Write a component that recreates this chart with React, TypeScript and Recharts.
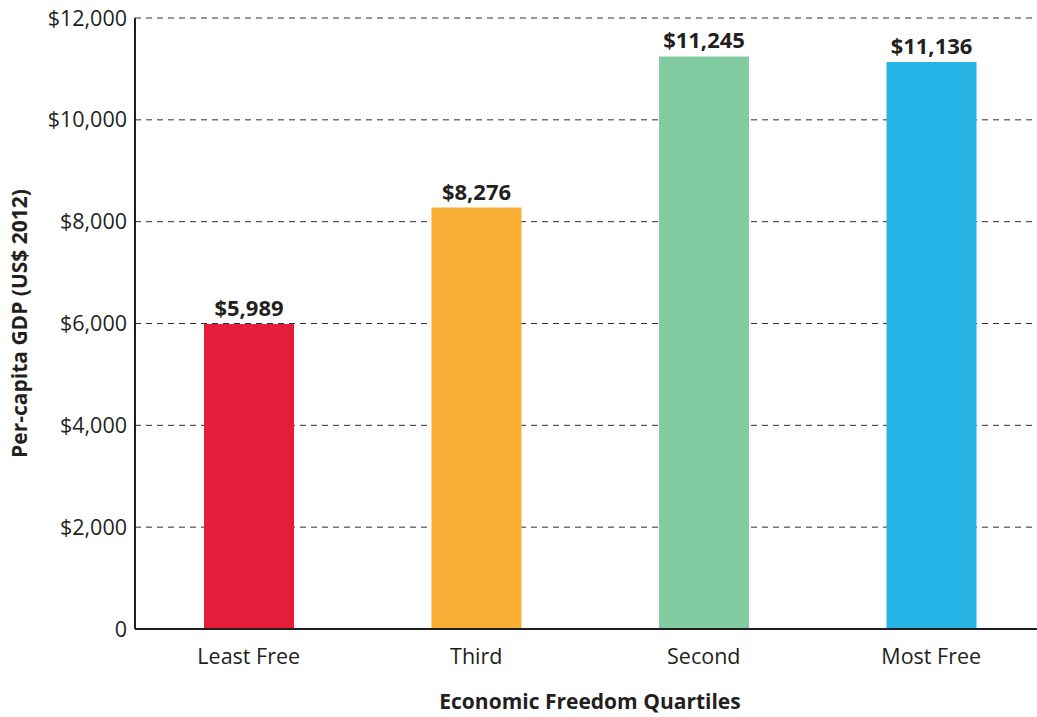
import { BarChart, Bar, XAxis, YAxis, CartesianGrid, Cell, LabelList } from "recharts";

// quartile categories and per-capita GDP values (US$ 2012)
const quartiles = ["Least Free", "Third", "Second", "Most Free"];
const gdpValues = [5989, 8276, 11245, 11136];
const barColors = ["#E41E3A", "#F9AF36", "#81CBA1", "#27B4E6"];
const yTicks = [0, 2000, 4000, 6000, 8000, 10000, 12000];

const data = quartiles.map((q, i) => ({ name: q, value: gdpValues[i] }));

const FONT = "'Open Sans', 'Noto Sans', sans-serif";
const INK = "#231F20";

const money = (v: number) => (v === 0 ? "0" : "$" + v.toLocaleString("en-US"));

export default function App() {
  return (
    <div
      style={{
        position: "fixed",
        left: 0,
        top: 0,
        width: 1037,
        height: 717,
        overflow: "hidden",
        background: "#fff",
        fontFamily: FONT,
      }}
    >
      <BarChart width={1060} height={717} data={data} margin={{ top: 18, right: 15, bottom: 0, left: 0 }}>
        <CartesianGrid vertical={false} stroke="#2E2E2E" strokeDasharray="6 5" />
        <XAxis
          dataKey="name"
          height={88}
          tickLine={false}
          axisLine={{ stroke: INK, strokeWidth: 2 }}
          tick={{ fill: INK, fontSize: 21.5, fontFamily: FONT }}
          tickMargin={14}
          label={{
            value: "Economic Freedom Quartiles",
            position: "insideBottom",
            offset: 8,
            style: { fill: INK, fontSize: 21, fontWeight: 700, fontFamily: FONT },
          }}
        />
        <YAxis
          width={135}
          domain={[0, 12000]}
          ticks={yTicks}
          interval={0}
          tickFormatter={money}
          tickLine={false}
          axisLine={{ stroke: INK, strokeWidth: 2 }}
          tick={{ fill: INK, fontSize: 21.5, fontFamily: FONT }}
          label={{
            value: "Per-capita GDP (US$ 2012)",
            angle: -90,
            position: "insideLeft",
            offset: 20,
            style: { fill: INK, fontSize: 21, fontWeight: 700, fontFamily: FONT, textAnchor: "middle" },
          }}
        />
        <Bar dataKey="value" barSize={90} isAnimationActive={false}>
          {data.map((d, i) => (
            <Cell key={d.name} fill={barColors[i]} />
          ))}
          <LabelList
            dataKey="value"
            position="top"
            offset={8}
            formatter={(v: any) => money(Number(v))}
            style={{ fill: INK, fontSize: 22, fontWeight: 700, fontFamily: FONT }}
          />
        </Bar>
      </BarChart>
    </div>
  );
}
